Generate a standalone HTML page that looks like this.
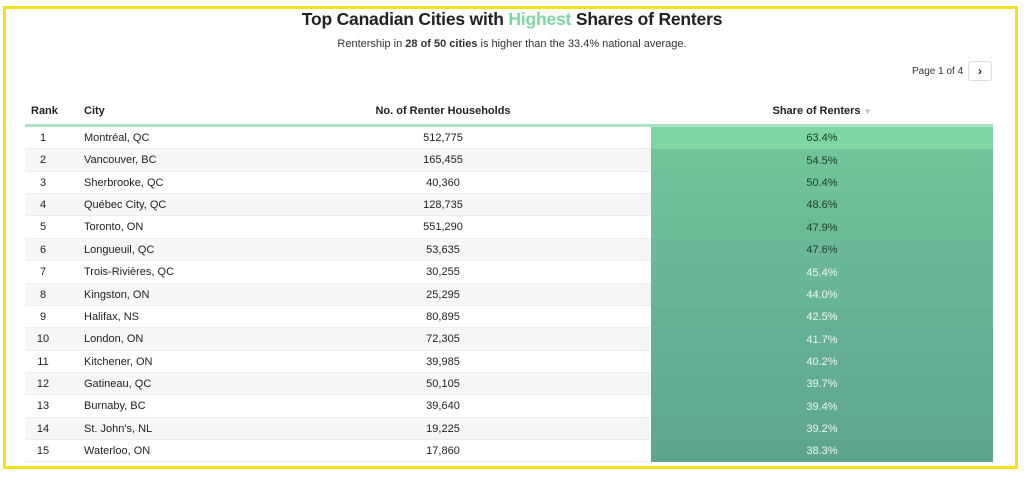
<!DOCTYPE html>
<html><head><meta charset="utf-8"><style>
*{margin:0;padding:0;box-sizing:border-box}
body{width:1024px;height:482px;background:#fff;font-family:"Liberation Sans",sans-serif;position:relative;overflow:hidden;color:#222}
.frame{position:absolute;left:3px;top:6px;width:1015px;height:463px;border:3px solid #f5e11a}
h1{position:absolute;top:9px;left:0;width:1024px;text-align:center;font-size:17.5px;font-weight:bold;letter-spacing:-0.2px}
h1 span{color:#7dd6a4}
.sub{position:absolute;top:38px;width:1024px;text-align:center;font-size:11px;color:#333}
.pg{position:absolute;top:66px;left:912px;font-size:10px;color:#333}
.btn{position:absolute;top:61px;left:968px;width:24px;height:20px;border:1px solid #ddd;border-radius:3px;text-align:center;font-size:12px;line-height:18px;font-weight:bold}
.hd{position:absolute;top:105px;font-size:11px;font-weight:bold}
.line{position:absolute;left:25px;top:124px;width:968px;height:3px;background:#a9e3c3}
.row{position:absolute;left:25px;width:968px;font-size:11px;border-bottom:1px solid #eee}
.row div{position:absolute;top:0;bottom:0;display:flex;align-items:center;justify-content:center}
.r{left:12px;width:12px}
.c{left:59px;justify-content:flex-start!important}
.n{left:318px;width:200px}
.s{left:626px;width:342px;bottom:-1px!important}
</style></head><body>
<div class="frame"></div>
<h1>Top Canadian Cities with <span>Highest</span> Shares of Renters</h1>
<div class="sub">Rentership in <b>28 of 50 cities</b> is higher than the 33.4% national average.</div>
<div class="pg">Page 1 of 4</div><div class="btn">›</div>
<div class="hd" style="left:31px">Rank</div>
<div class="hd" style="left:84px">City</div>
<div class="hd" style="left:343px;width:200px;text-align:center">No. of Renter Households</div>
<div class="hd" style="left:722px;width:200px;text-align:center">Share of Renters <span style="color:#bbb;font-size:8px">▼</span></div>
<div class="line"></div>
<div id="t"></div>
<script>
var d=[["Montréal, QC","512,775","63.4%"],["Vancouver, BC","165,455","54.5%"],["Sherbrooke, QC","40,360","50.4%"],["Québec City, QC","128,735","48.6%"],["Toronto, ON","551,290","47.9%"],["Longueuil, QC","53,635","47.6%"],["Trois-Rivières, QC","30,255","45.4%"],["Kingston, ON","25,295","44.0%"],["Halifax, NS","80,895","42.5%"],["London, ON","72,305","41.7%"],["Kitchener, ON","39,985","40.2%"],["Gatineau, QC","50,105","39.7%"],["Burnaby, BC","39,640","39.4%"],["St. John's, NL","19,225","39.2%"],["Waterloo, ON","17,860","38.3%"]];
var c0=[125,214,164],c1=[94,165,144],h="";
d.forEach(function(r,i){var f=i/14;if(i>0)f=0.35+0.65*i/14;var col=c0.map(function(v,k){return Math.round(v+(c1[k]-v)*f)});
var t=Math.round(127+i*22.36),b=Math.round(127+(i+1)*22.36);
h+='<div class="row" style="top:'+t+'px;height:'+(b-t)+'px;background:'+(i%2?'#f6f6f6':'#fff')+'"><div class="r">'+(i+1)+'</div><div class="c">'+r[0]+'</div><div class="n">'+r[1]+'</div><div class="s" style="background:rgb('+col+');color:'+(i<6?'#1d3b2c':'#eef7f2')+'">'+r[2]+'</div></div>';});
document.getElementById('t').innerHTML=h;
</script>
</body></html>
